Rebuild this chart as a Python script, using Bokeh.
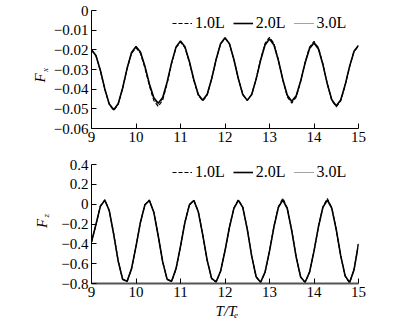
from math import pi
from bokeh.plotting import figure
from bokeh.layouts import column, row
from bokeh.models import Range1d, FixedTicker, Legend, LegendItem
from bokeh.core.properties import value
from bokeh.embed import file_html
from bokeh.resources import INLINE

# ---------------- data ----------------
t = [9.0, 9.1, 9.2, 9.3, 9.4, 9.5, 9.6, 9.7, 9.8, 9.9,
     10.0, 10.1, 10.2, 10.3, 10.4, 10.5, 10.6, 10.7, 10.8, 10.9,
     11.0, 11.1, 11.2, 11.3, 11.4, 11.5, 11.6, 11.7, 11.8, 11.9,
     12.0, 12.1, 12.2, 12.3, 12.4, 12.5, 12.6, 12.7, 12.8, 12.9,
     13.0, 13.1, 13.2, 13.3, 13.4, 13.5, 13.6, 13.7, 13.8, 13.9,
     14.0, 14.1, 14.2, 14.3, 14.4, 14.5, 14.6, 14.7, 14.8, 14.9, 15.0]

fx_1L = [-0.0200, -0.0230, -0.0306, -0.0401, -0.0478, -0.0508, -0.0476, -0.0396, -0.0296, -0.0218,
         -0.0190, -0.0218, -0.0292, -0.0383, -0.0458, -0.0488, -0.0456, -0.0372, -0.0270, -0.0190,
         -0.0160, -0.0189, -0.0264, -0.0356, -0.0431, -0.0460, -0.0429, -0.0349, -0.0250, -0.0171,
         -0.0141, -0.0170, -0.0249, -0.0347, -0.0427, -0.0457, -0.0427, -0.0347, -0.0248, -0.0167,
         -0.0136, -0.0168, -0.0251, -0.0354, -0.0439, -0.0471, -0.0441, -0.0361, -0.0263, -0.0186,
         -0.0157, -0.0189, -0.0271, -0.0374, -0.0458, -0.0490, -0.0460, -0.0381, -0.0286, -0.0208, -0.0179]
fx_2L = [-0.0200, -0.0229, -0.0305, -0.0400, -0.0476, -0.0505, -0.0474, -0.0394, -0.0294, -0.0214,
         -0.0183, -0.0211, -0.0283, -0.0372, -0.0444, -0.0472, -0.0442, -0.0363, -0.0265, -0.0185,
         -0.0155, -0.0184, -0.0259, -0.0352, -0.0427, -0.0456, -0.0426, -0.0347, -0.0249, -0.0169,
         -0.0139, -0.0169, -0.0249, -0.0347, -0.0427, -0.0457, -0.0427, -0.0349, -0.0253, -0.0175,
         -0.0145, -0.0175, -0.0254, -0.0352, -0.0431, -0.0461, -0.0433, -0.0359, -0.0267, -0.0193,
         -0.0165, -0.0196, -0.0275, -0.0374, -0.0454, -0.0484, -0.0455, -0.0378, -0.0284, -0.0207, -0.0178]
fx_3L = [-0.0201, -0.0230, -0.0305, -0.0400, -0.0477, -0.0506, -0.0475, -0.0395, -0.0295, -0.0216,
         -0.0186, -0.0214, -0.0287, -0.0377, -0.0451, -0.0480, -0.0449, -0.0368, -0.0268, -0.0188,
         -0.0158, -0.0187, -0.0262, -0.0354, -0.0429, -0.0458, -0.0428, -0.0348, -0.0250, -0.0170,
         -0.0140, -0.0170, -0.0249, -0.0347, -0.0427, -0.0457, -0.0427, -0.0348, -0.0250, -0.0171,
         -0.0140, -0.0171, -0.0252, -0.0353, -0.0435, -0.0466, -0.0437, -0.0360, -0.0265, -0.0189,
         -0.0160, -0.0192, -0.0273, -0.0374, -0.0456, -0.0487, -0.0458, -0.0380, -0.0285, -0.0207, -0.0178]

fz_1L = [-0.385, -0.208, -0.018, 0.045, -0.064, -0.304, -0.574, -0.760, -0.782, -0.652,
         -0.427, -0.184, -0.005, 0.042, -0.078, -0.320, -0.583, -0.760, -0.780, -0.652,
         -0.427, -0.182, -0.004, 0.042, -0.074, -0.308, -0.568, -0.752, -0.786, -0.678,
         -0.470, -0.231, -0.038, 0.045, -0.030, -0.251, -0.525, -0.735, -0.790, -0.688,
         -0.474, -0.225, -0.025, 0.060, -0.038, -0.266, -0.535, -0.737, -0.790, -0.687,
         -0.473, -0.225, -0.026, 0.058, -0.036, -0.255, -0.520, -0.726, -0.793, -0.662, -0.401]
fz_2L = [-0.380, -0.205, -0.020, 0.040, -0.067, -0.306, -0.574, -0.757, -0.778, -0.650,
         -0.425, -0.182, -0.007, 0.037, -0.081, -0.321, -0.582, -0.758, -0.778, -0.650,
         -0.425, -0.182, -0.007, 0.037, -0.077, -0.309, -0.567, -0.749, -0.784, -0.677,
         -0.470, -0.233, -0.042, 0.039, -0.033, -0.252, -0.524, -0.732, -0.787, -0.686,
         -0.474, -0.228, -0.033, 0.040, -0.046, -0.268, -0.534, -0.734, -0.787, -0.686,
         -0.474, -0.228, -0.033, 0.040, -0.042, -0.257, -0.519, -0.723, -0.790, -0.660, -0.400]
fz_3L = [-0.382, -0.206, -0.019, 0.043, -0.066, -0.305, -0.574, -0.758, -0.780, -0.651,
         -0.426, -0.183, -0.006, 0.040, -0.080, -0.321, -0.582, -0.759, -0.779, -0.651,
         -0.426, -0.182, -0.005, 0.040, -0.076, -0.309, -0.567, -0.750, -0.785, -0.677,
         -0.470, -0.232, -0.040, 0.042, -0.032, -0.252, -0.524, -0.733, -0.788, -0.687,
         -0.474, -0.226, -0.029, 0.052, -0.042, -0.267, -0.534, -0.735, -0.788, -0.686,
         -0.474, -0.226, -0.030, 0.050, -0.039, -0.256, -0.520, -0.724, -0.791, -0.661, -0.400]

series_labels = ["1.0L", "2.0L", "3.0L"]

t_ticks = [9, 10, 11, 12, 13, 14, 15]
t_tick_labels = ["9", "10", "11", "12", "13", "14", "15"]
fx_ticks = [0, -0.01, -0.02, -0.03, -0.04, -0.05, -0.06]
fx_tick_labels = ["0", "\u22120.01", "\u22120.02", "\u22120.03", "\u22120.04", "\u22120.05", "\u22120.06"]
fz_ticks = [0.4, 0.2, 0, -0.2, -0.4, -0.6, -0.8]
fz_tick_labels = ["0.4", "0.2", "0", "\u22120.2", "\u22120.4", "\u22120.6", "\u22120.8"]

FONT = "Liberation Serif"
LAB_W = 50          # width of the strip holding the y titles
TOTAL_H = 323       # height of the whole layout


def style_axis(ax, ticks, labels, line_color="black", line_width=1):
    ax.ticker = FixedTicker(ticks=ticks)
    ax.major_label_overrides = dict(zip(ticks, labels))
    ax.axis_line_color = line_color
    ax.axis_line_width = line_width
    ax.major_tick_in = 5
    ax.major_tick_out = 0
    ax.minor_tick_in = 0
    ax.minor_tick_out = 0
    ax.major_tick_line_color = "black"
    ax.major_label_text_font = FONT
    ax.major_label_text_font_size = "15px"
    ax.major_label_text_color = "black"
    ax.major_label_standoff = 3


def make_fig(height, border_top, border_bottom, y_lo, y_hi):
    p = figure(width=328, height=height,
               x_range=Range1d(9, 15), y_range=Range1d(y_lo, y_hi),
               output_backend="svg", toolbar_location=None,
               min_border_left=39, min_border_right=20,
               min_border_top=border_top, min_border_bottom=border_bottom)
    p.xgrid.visible = False
    p.ygrid.visible = False
    p.outline_line_color = None
    return p


def add_series(p, y1, y2, y3, legend_xy):
    r3 = p.line(t, y3, line_color="#444444", line_width=1.1, line_dash="1 1")
    r1 = p.line(t, y1, line_color="black", line_width=1.1, line_dash="4 2")
    r2 = p.line(t, y2, line_color="black", line_width=1.6)
    leg = Legend(items=[LegendItem(label=series_labels[0], renderers=[r1]),
                        LegendItem(label=series_labels[1], renderers=[r2]),
                        LegendItem(label=series_labels[2], renderers=[r3])],
                 location=legend_xy, orientation="horizontal",
                 glyph_width=20, glyph_height=14, label_height=14,
                 label_standoff=3, spacing=8, padding=0, margin=0,
                 border_line_color=None, background_fill_alpha=0,
                 label_text_font=FONT, label_text_font_size="16px",
                 label_text_color="black")
    p.add_layout(leg)


def put_text(s, x, y, txt, size, angle=0.0):
    s.text(x=[x], y=[y], text=[txt], angle=angle,
           text_font=value(FONT), text_font_style="italic", text_font_size=size,
           text_align="left", text_baseline="middle", text_color="black")


# ---------------- top: Fx ----------------
p1 = make_fig(150, 10, 22, -0.06, 0)
add_series(p1, fx_1L, fx_2L, fx_3L, (81, 96))
style_axis(p1.xaxis[0], t_ticks, t_tick_labels)
style_axis(p1.yaxis[0], fx_ticks, fx_tick_labels)

# ---------------- bottom: Fz ----------------
p2 = make_fig(153, 14, 20, -0.8, 0.4)
add_series(p2, fz_1L, fz_2L, fz_3L, (81, 102))
style_axis(p2.xaxis[0], t_ticks, t_tick_labels, line_color="#555555", line_width=2)
style_axis(p2.yaxis[0], fz_ticks, fz_tick_labels)

# ---------------- y titles: strip in page pixels (x right, y = -page y) ----------------
left = figure(width=LAB_W, height=TOTAL_H,
              x_range=Range1d(0, LAB_W), y_range=Range1d(-TOTAL_H, 0),
              output_backend="svg", toolbar_location=None,
              x_axis_type=None, y_axis_type=None,
              min_border_left=0, min_border_right=0, min_border_top=0, min_border_bottom=0)
left.outline_line_color = None
left.xgrid.visible = False
left.ygrid.visible = False
put_text(left, 39, -82, "F", "15px", pi / 2)
put_text(left, 44.5, -71.5, "x", "9px", pi / 2)
put_text(left, 41.5, -227.5, "F", "15px", pi / 2)
put_text(left, 45, -217, "z", "9px", pi / 2)

# ---------------- x title: strip aligned with the plot frames ----------------
bottom = figure(width=328, height=20,
                x_range=p2.x_range, y_range=Range1d(-323, -303),
                output_backend="svg", toolbar_location=None,
                x_axis_type=None, y_axis_type=None,
                min_border_left=0, min_border_right=0, min_border_top=0, min_border_bottom=0)
bottom.outline_line_color = None
bottom.xgrid.visible = False
bottom.ygrid.visible = False
put_text(bottom, 11.788, -310.5, "T/T", "15px")
put_text(bottom, 12.201, -314.5, "e", "9px")

layout = row(left, column(p1, p2, bottom, spacing=0), spacing=0)
open("out.html", "w").write(file_html(layout, INLINE))
